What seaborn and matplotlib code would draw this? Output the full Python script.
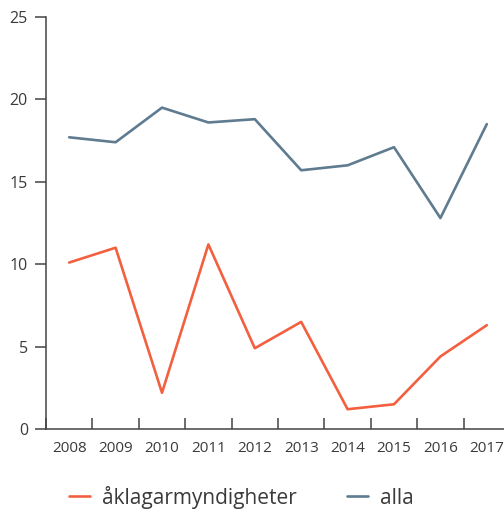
import matplotlib
matplotlib.use("Agg")
import matplotlib.pyplot as plt
import seaborn as sns
import numpy as np
import pandas as pd

# ---------------------------------------------------------------------------
# Data
# ---------------------------------------------------------------------------

years = ["2008", "2009", "2010", "2011", "2012", "2013", "2014", "2015", "2016", "2017"]
aklagar = [10.1, 11.0, 2.2, 11.2, 4.9, 6.5, 1.2, 1.5, 4.4, 6.3]
alla = [17.7, 17.4, 19.5, 18.6, 18.8, 15.7, 16.0, 17.1, 12.8, 18.5]

series_names = ["åklagarmyndigheter", "alla"]
colors = ["#F2603F", "#5F7B8F"]
y_ticks = [0, 5, 10, 15, 20, 25]

df = pd.DataFrame({
    "year": years * 2,
    "value": aklagar + alla,
    "series": [series_names[0]] * len(years) + [series_names[1]] * len(years),
})

# ---------------------------------------------------------------------------
# Style
# ---------------------------------------------------------------------------

sns.set_style("white")
plt.rcParams["font.family"] = ["Open Sans", "DejaVu Sans"]
text_color = "#3a3a3a"
axis_color = "#444444"

fig = plt.figure(figsize=(5.04, 5.13), dpi=100)
ax = fig.add_axes([46 / 504, 84 / 513, 464 / 504, 412 / 513])

sns.lineplot(
    data=df,
    x="year",
    y="value",
    hue="series",
    hue_order=series_names,
    palette=colors,
    linewidth=1.9,
    ax=ax,
    legend=False,
)

ax.set_xlim(-0.5, len(years) - 0.5)
ax.set_ylim(0, 25)
ax.set_xlabel(None)
ax.set_ylabel(None)

for side in ["top", "right"]:
    ax.spines[side].set_visible(False)
for side in ["left", "bottom"]:
    ax.spines[side].set_color(axis_color)
    ax.spines[side].set_linewidth(1.1)

# y axis: outward ticks
ax.set_yticks(y_ticks)
ax.tick_params(axis="y", direction="out", length=8, width=1.1, color=axis_color,
               labelsize=11.5, labelcolor=text_color, pad=5, left=True)

# x axis: labels at band centers, inward ticks at band boundaries
ax.set_xticks(np.arange(len(years)))
ax.set_xticklabels(years)
ax.set_xticks(np.arange(len(years) + 1) - 0.5, minor=True)
ax.tick_params(axis="x", which="major", length=0, labelsize=11,
               labelcolor=text_color, pad=9)
ax.tick_params(axis="x", which="minor", direction="in", length=8, width=1.1,
               color=axis_color, bottom=True)

handles = [plt.Line2D([0], [0], color=c, linewidth=1.9) for c in colors]
fig.legend(
    handles,
    series_names,
    loc="center",
    bbox_to_anchor=(0.479, 0.031),
    ncol=2,
    frameon=False,
    fontsize=15,
    handlelength=1.0,
    handletextpad=0.55,
    columnspacing=2.45,
    labelcolor=text_color,
)

fig.savefig("out.png", dpi=100)
